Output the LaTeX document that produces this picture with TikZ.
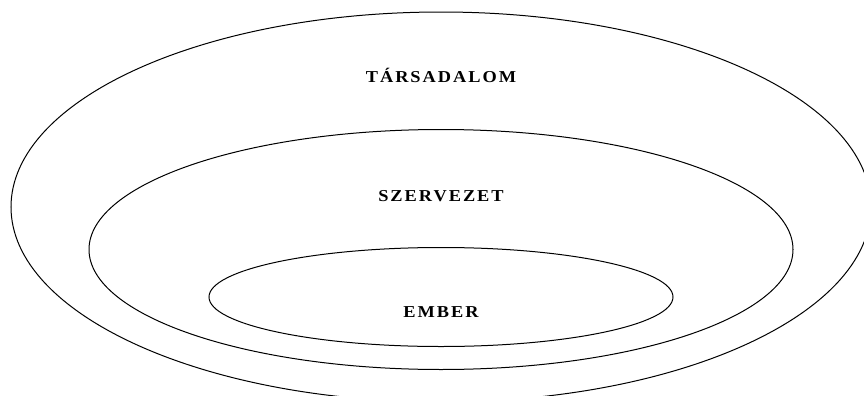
\documentclass[tikz,border=0pt]{standalone}
\usepackage{fontspec}
\setmainfont{Liberation Serif}
\newfontfamily\cimfont[LetterSpace=12,FakeStretch=1.1]{Liberation Serif}

\tikzset{every picture/.style={line width=0.75pt}}
\tikzset{felirat/.style={anchor=base,inner sep=0pt,font=\cimfont\bfseries\fontsize{12.5}{15}\selectfont}}

\begin{document}
\begin{tikzpicture}[x=0.75pt,y=0.75pt,yscale=-1,xscale=1]
        \clip (0,0) rectangle (864,396);
        % tarsadalom
        \draw   (11,207) .. controls (11,99.3) and (203.5,12) .. (441,12) .. controls (678.5,12) and (871,99.3) .. (871,207) .. controls (871,314.7) and (678.5,402) .. (441,402) .. controls (203.5,402) and (11,314.7) .. (11,207) -- cycle ;
        % szervezet
        \draw   (89,249.5) .. controls (89,183.2) and (246.6,129.5) .. (441,129.5) .. controls (635.4,129.5) and (793,183.2) .. (793,249.5) .. controls (793,315.8) and (635.4,369.5) .. (441,369.5) .. controls (246.6,369.5) and (89,315.8) .. (89,249.5) -- cycle ;
        % ember
        \draw   (209,297) .. controls (209,269.7) and (312.9,247.5) .. (441,247.5) .. controls (569.1,247.5) and (673,269.7) .. (673,297) .. controls (673,324.3) and (569.1,346.5) .. (441,346.5) .. controls (312.9,346.5) and (209,324.3) .. (209,297) -- cycle ;

        \node[felirat] (tarsadalom) at (441,82.3) {TÁRSADALOM};
        \node[felirat] (szervezet) at (441,201.7) {SZERVEZET};
        \node[felirat] (ember) at (441,317.3) {EMBER};
    \end{tikzpicture}
\end{document}
